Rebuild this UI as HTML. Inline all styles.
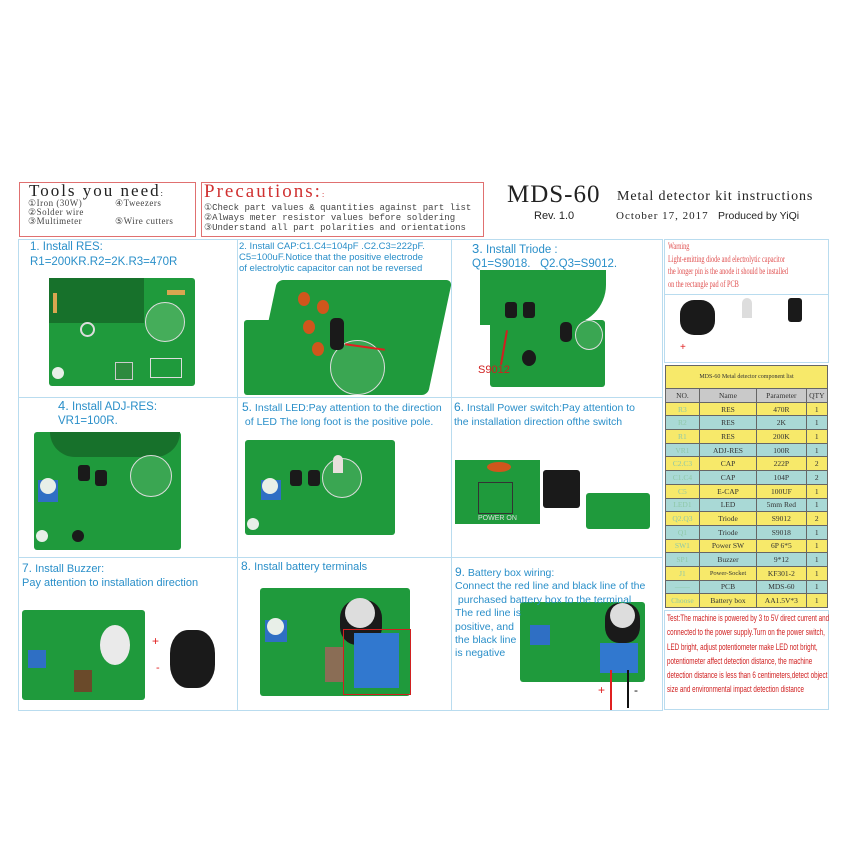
<!DOCTYPE html>
<html><head><meta charset="utf-8"><style>
*{margin:0;padding:0;box-sizing:border-box}
body{width:843px;height:843px;background:#fff;position:relative;overflow:hidden;font-family:"Liberation Sans",sans-serif}
.a{position:absolute}
.s{font-family:"Liberation Serif",serif}
.m{font-family:"Liberation Mono",monospace}
.t{color:#2a8fc9;font-size:11px;line-height:14px;position:absolute;white-space:nowrap}
.pcb{position:absolute;background:#1f9a3c;border-radius:3px}
.dk{position:absolute;background:#17712b}
.blk{position:absolute;background:#1a1a1a;border-radius:3px}
.or{position:absolute;background:#d0561c;border-radius:50%}
.wh{position:absolute;background:#e8efe8;border-radius:50%}
.bl{position:absolute;background:#2f6fc4}
table{border-collapse:collapse;position:absolute;left:665px;top:365px;width:163px;font-family:"Liberation Serif",serif;font-size:7.5px;text-align:center}
td{border:1px solid #666;height:13.7px;padding:0;color:#333}
tr.y td{background:#f7e96a}
tr.c td{background:#a9d9d6}
td.n{color:#8fc8a8}
</style></head><body>
<!-- header boxes -->
<div class="a" style="left:19px;top:182px;width:177px;height:55px;border:1px solid #e07070"></div>
<div class="a s" style="left:29px;top:181px;font-size:17px;letter-spacing:2px;color:#222">Tools you need<span style="font-size:8px">:</span></div>
<div class="a s" style="left:28px;top:199px;font-size:9px;line-height:9px;color:#444;letter-spacing:.5px">①Iron (30W)<br>②Solder wire<br>③Multimeter</div>
<div class="a s" style="left:115px;top:199px;font-size:9px;line-height:9px;color:#444;letter-spacing:.5px">④Tweezers<br><br>⑤Wire cutters</div>
<div class="a" style="left:201px;top:182px;width:283px;height:55px;border:1px solid #e07070"></div>
<div class="a s" style="left:204px;top:181px;font-size:19px;letter-spacing:2px;color:#d03030">Precautions:<span style="font-size:8px">:</span></div>
<div class="a m" style="left:204px;top:203px;font-size:9px;line-height:10px;color:#444">①Check part values &amp; quantities against part list<br>②Always meter resistor values before soldering<br>③Understand all part polarities and orientations</div>
<div class="a s" style="left:507px;top:181px;font-size:25px;color:#222;letter-spacing:1px">MDS-60</div>
<div class="a s" style="left:617px;top:189px;font-size:14px;color:#222;letter-spacing:.9px">Metal detector kit instructions</div>
<div class="a" style="left:534px;top:210px;font-size:11px;color:#222">Rev. 1.0</div>
<div class="a s" style="left:616px;top:210px;font-size:11px;color:#222;letter-spacing:1px">October 17, 2017</div>
<div class="a" style="left:718px;top:210px;font-size:10.5px;color:#222">Produced by YiQi</div>

<!-- grid -->
<div class="a" style="left:18px;top:239px;width:645px;height:472px;border:1px solid #b9dcef"></div>
<div class="a" style="left:237px;top:239px;width:1px;height:472px;background:#b9dcef"></div>
<div class="a" style="left:451px;top:239px;width:1px;height:472px;background:#b9dcef"></div>
<div class="a" style="left:18px;top:397px;width:645px;height:1px;background:#b9dcef"></div>
<div class="a" style="left:18px;top:557px;width:645px;height:1px;background:#b9dcef"></div>
<div class="a" style="left:664px;top:239px;width:165px;height:124px;border:1px solid #b9dcef"></div>
<div class="a" style="left:664px;top:294px;width:165px;height:1px;background:#b9dcef"></div>

<!-- panel 1 -->
<div class="t" style="left:30px;top:240px;font-size:11.5px;line-height:15px">1. Install RES:<br>R1=200KR.R2=2K.R3=470R</div>
<div class="pcb" style="left:49px;top:278px;width:146px;height:108px"></div>
<div class="dk" style="left:49px;top:278px;width:95px;height:45px"></div>
<div class="wh" style="left:145px;top:302px;width:40px;height:40px;background:#45ad5a;border:1px solid #ddd"></div>
<div class="a" style="left:80px;top:322px;width:15px;height:15px;border:2px solid #ddd;border-radius:50%"></div>
<div class="wh" style="left:52px;top:367px;width:12px;height:12px"></div>
<div class="a" style="left:115px;top:362px;width:18px;height:18px;background:#2e8a3e;border:1px solid #ccc"></div>
<div class="a" style="left:150px;top:358px;width:32px;height:20px;border:1px solid #ddd"></div>
<div class="a" style="left:53px;top:293px;width:4px;height:20px;background:#d8a650"></div>
<div class="a" style="left:167px;top:290px;width:18px;height:5px;background:#d8a650"></div>

<!-- panel 2 -->
<div class="t" style="left:239px;top:241px;font-size:9.5px;line-height:11px">2. Install CAP:C1.C4=104pF .C2.C3=222pF.<br>C5=100uF.Notice that the positive electrode<br>of electrolytic capacitor can not be reversed</div>
<div class="pcb" style="left:265px;top:280px;width:175px;height:115px;transform:skewX(-12deg);border-radius:6px"></div>
<div class="pcb" style="left:244px;top:320px;width:80px;height:75px"></div>
<div class="wh" style="left:330px;top:340px;width:55px;height:55px;background:#3aa652;border:1px solid #ddd"></div>
<div class="or" style="left:298px;top:292px;width:12px;height:14px"></div>
<div class="or" style="left:317px;top:300px;width:12px;height:14px"></div>
<div class="or" style="left:303px;top:320px;width:12px;height:14px"></div>
<div class="or" style="left:312px;top:342px;width:12px;height:14px"></div>
<div class="blk" style="left:330px;top:318px;width:14px;height:32px;border-radius:5px"></div>
<div class="a" style="left:345px;top:346px;width:40px;height:2px;background:#e02020;transform:rotate(8deg)"></div>

<!-- panel 3 -->
<div class="t" style="left:472px;top:242px;font-size:11.5px;line-height:14px"><span style="font-size:13px">3.</span> Install Triode :<br>Q1=S9018.&nbsp;&nbsp;&nbsp;Q2.Q3=S9012.</div>
<div class="pcb" style="left:480px;top:270px;width:126px;height:55px;border-radius:0 0 40px 0"></div>
<div class="pcb" style="left:490px;top:320px;width:115px;height:67px"></div>
<div class="blk" style="left:505px;top:302px;width:12px;height:16px"></div>
<div class="blk" style="left:523px;top:302px;width:12px;height:16px"></div>
<div class="blk" style="left:522px;top:350px;width:14px;height:16px;border-radius:50%"></div>
<div class="blk" style="left:560px;top:322px;width:12px;height:20px;border-radius:5px"></div>
<div class="wh" style="left:575px;top:320px;width:28px;height:30px;background:#3aa652;border:1px solid #ddd"></div>
<div class="a" style="left:478px;top:364px;font-size:11px;color:#d02020">S9012</div>
<div class="a" style="left:503px;top:330px;width:2px;height:35px;background:#d02020;transform:rotate(10deg)"></div>

<!-- warning -->
<div class="a s" style="left:668px;top:241px;font-size:9.5px;line-height:12.5px;color:#e05050;white-space:nowrap;transform:scaleX(.66);transform-origin:left top">Warning<br>Light-emitting diode and electrolytic capacitor<br>the longer pin is the anode it should be installed<br>on the rectangle pad of PCB</div>
<div class="blk" style="left:680px;top:300px;width:35px;height:35px;border-radius:40%"></div>
<div class="a" style="left:742px;top:298px;width:10px;height:20px;background:#ddd;border-radius:5px 5px 0 0"></div>
<div class="blk" style="left:788px;top:298px;width:14px;height:24px"></div>
<div class="a" style="left:680px;top:342px;font-size:10px;color:#e02020">+</div>

<!-- table -->
<table>
<tr class="y"><td colspan="4" style="height:23px;font-size:6px">MDS-60 Metal detector component list</td></tr>
<tr style="background:#c9c9c9"><td style="width:26px;background:#c9c9c9">NO.</td><td style="width:44px;background:#c9c9c9">Name</td><td style="width:38px;background:#c9c9c9">Parameter</td><td style="width:12px;background:#c9c9c9">QTY</td></tr>
<tr class="y"><td class="n">R3</td><td>RES</td><td>470R</td><td>1</td></tr>
<tr class="c"><td class="n">R2</td><td>RES</td><td>2K</td><td>1</td></tr>
<tr class="y"><td class="n">R1</td><td>RES</td><td>200K</td><td>1</td></tr>
<tr class="c"><td class="n">VR1</td><td>ADJ-RES</td><td>100R</td><td>1</td></tr>
<tr class="y"><td class="n">C2.C3</td><td>CAP</td><td>222P</td><td>2</td></tr>
<tr class="c"><td class="n">C1.C4</td><td>CAP</td><td>104P</td><td>2</td></tr>
<tr class="y"><td class="n">C5</td><td>E-CAP</td><td>100UF</td><td>1</td></tr>
<tr class="c"><td class="n">LED1</td><td>LED</td><td>5mm Red</td><td>1</td></tr>
<tr class="y"><td class="n">Q2.Q3</td><td>Triode</td><td>S9012</td><td>2</td></tr>
<tr class="c"><td class="n">Q1</td><td>Triode</td><td>S9018</td><td>1</td></tr>
<tr class="y"><td class="n">SW1</td><td>Power SW</td><td>6P 6*5</td><td>1</td></tr>
<tr class="c"><td class="n">SP1</td><td>Buzzer</td><td>9*12</td><td>1</td></tr>
<tr class="y"><td class="n">J1</td><td style="font-size:6.5px">Power-Socket</td><td>KF301-2</td><td>1</td></tr>
<tr class="c"><td class="n">——</td><td>PCB</td><td>MDS-60</td><td>1</td></tr>
<tr class="y"><td class="n">Choose</td><td>Battery box</td><td>AA1.5V*3</td><td>1</td></tr>
</table>
<div class="a" style="left:664px;top:610px;width:165px;height:100px;border:1px solid #b9dcef"></div>
<div class="a" style="left:667px;top:612px;font-size:9.5px;line-height:14.3px;color:#d02020;white-space:nowrap;transform:scaleX(.66);transform-origin:left top">Test:The machine is powered by 3 to 5V direct current and<br>connected to the power supply.Turn on the power switch,<br>LED bright, adjust potentiometer make LED not bright,<br>potentiometer affect detection distance, the machine<br>detection distance is less than 6 centimeters,detect object<br>size and environmental impact detection distance</div>

<!-- panel 4 -->
<div class="t" style="left:58px;top:399px;font-size:11.5px;line-height:14px"><span style="font-size:13px">4.</span> Install ADJ-RES:<br>VR1=100R.</div>
<div class="pcb" style="left:34px;top:432px;width:147px;height:118px"></div>
<div class="dk" style="left:50px;top:432px;width:130px;height:25px;border-radius:0 0 60px 60px"></div>
<div class="wh" style="left:130px;top:455px;width:42px;height:42px;background:#3aa652;border:1px solid #ddd"></div>
<div class="bl" style="left:38px;top:480px;width:20px;height:22px"></div>
<div class="wh" style="left:40px;top:478px;width:16px;height:16px"></div>
<div class="blk" style="left:78px;top:465px;width:12px;height:16px"></div>
<div class="blk" style="left:95px;top:470px;width:12px;height:16px"></div>
<div class="blk" style="left:72px;top:530px;width:12px;height:12px;border-radius:50%"></div>
<div class="wh" style="left:36px;top:530px;width:12px;height:12px"></div>

<!-- panel 5 -->
<div class="t" style="left:242px;top:400px;font-size:10.5px;line-height:14px"><span style="font-size:12px">5.</span> Install LED:Pay attention to the direction<br>&nbsp;of LED The long foot is the positive pole.</div>
<div class="pcb" style="left:245px;top:440px;width:150px;height:95px"></div>
<div class="wh" style="left:322px;top:458px;width:40px;height:40px;background:#3aa652;border:1px solid #ddd"></div>
<div class="a" style="left:333px;top:455px;width:10px;height:18px;background:#e8e0dc;border-radius:5px 5px 0 0"></div>
<div class="bl" style="left:261px;top:480px;width:20px;height:20px"></div>
<div class="wh" style="left:262px;top:478px;width:16px;height:16px"></div>
<div class="blk" style="left:290px;top:470px;width:12px;height:16px"></div>
<div class="blk" style="left:308px;top:470px;width:12px;height:16px"></div>
<div class="wh" style="left:247px;top:518px;width:12px;height:12px"></div>

<!-- panel 6 -->
<div class="t" style="left:454px;top:400px;font-size:10.5px;line-height:14px"><span style="font-size:12px">6.</span> Install Power switch:Pay attention to<br>the installation direction ofthe switch</div>
<div class="pcb" style="left:455px;top:460px;width:85px;height:64px;border-radius:0"></div>
<div class="or" style="left:487px;top:462px;width:24px;height:10px"></div>
<div class="a" style="left:478px;top:482px;width:35px;height:32px;border:1px solid #333"></div>
<div class="blk" style="left:543px;top:470px;width:37px;height:38px"></div>
<div class="pcb" style="left:586px;top:493px;width:64px;height:36px"></div>
<div class="a" style="left:478px;top:515px;font-size:7px;color:#ddd">POWER ON</div>

<!-- panel 7 -->
<div class="t" style="left:22px;top:561px;font-size:11px;line-height:14px"><span style="font-size:12px">7.</span> Install Buzzer:<br>Pay attention to installation direction</div>
<div class="pcb" style="left:22px;top:610px;width:123px;height:90px"></div>
<div class="wh" style="left:100px;top:625px;width:30px;height:40px;background:#eaeaea"></div>
<div class="bl" style="left:28px;top:650px;width:18px;height:18px"></div>
<div class="a" style="left:74px;top:670px;width:18px;height:22px;background:#6a4a2a"></div>
<div class="blk" style="left:170px;top:630px;width:45px;height:58px;border-radius:40%"></div>
<div class="a" style="left:152px;top:634px;font-size:12px;color:#e02020">+</div>
<div class="a" style="left:156px;top:662px;font-size:11px;color:#e02020">-</div>

<!-- panel 8 -->
<div class="t" style="left:241px;top:559px;font-size:11px;line-height:14px"><span style="font-size:12px">8.</span> Install battery terminals</div>
<div class="pcb" style="left:260px;top:588px;width:150px;height:108px"></div>
<div class="blk" style="left:340px;top:600px;width:42px;height:45px;border-radius:40%"></div>
<div class="wh" style="left:345px;top:598px;width:30px;height:30px;background:#ddd"></div>
<div class="bl" style="left:265px;top:620px;width:22px;height:22px"></div>
<div class="wh" style="left:267px;top:618px;width:17px;height:17px"></div>
<div class="a" style="left:325px;top:647px;width:18px;height:35px;background:#8a6d55"></div>
<div class="bl" style="left:354px;top:633px;width:45px;height:55px;background:#3178cf"></div>
<div class="a" style="left:343px;top:629px;width:68px;height:66px;border:1.5px solid #d02020"></div>

<!-- panel 9 -->
<div class="pcb" style="left:520px;top:602px;width:125px;height:80px"></div>
<div class="t" style="left:455px;top:566px;font-size:10.5px;line-height:13.4px"><span style="font-size:12px">9.</span> Battery box wiring:<br>Connect the red line and black line of the<br>&nbsp;purchased battery box to the terminal<br>The red line is<br>positive, and<br>the black line<br>is negative</div>
<div class="blk" style="left:605px;top:603px;width:35px;height:40px;border-radius:40%"></div>
<div class="wh" style="left:610px;top:603px;width:25px;height:25px;background:#ddd"></div>
<div class="bl" style="left:600px;top:643px;width:38px;height:30px;background:#3178cf"></div>
<div class="bl" style="left:530px;top:625px;width:20px;height:20px"></div>
<div class="a" style="left:610px;top:670px;width:2px;height:40px;background:#e02020"></div>
<div class="a" style="left:627px;top:670px;width:2px;height:38px;background:#111"></div>
<div class="a" style="left:598px;top:683px;font-size:12px;color:#e02020">+</div>
<div class="a" style="left:634px;top:683px;font-size:12px;color:#111">-</div>
</body></html>
